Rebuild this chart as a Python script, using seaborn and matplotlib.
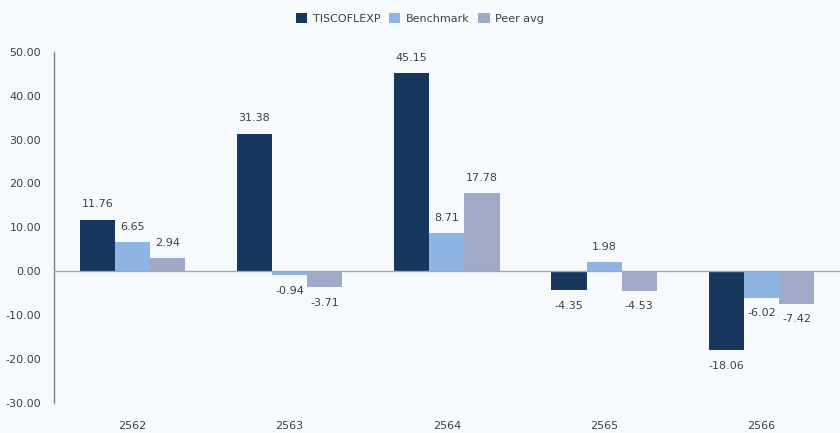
import pandas as pd
import numpy as np
import matplotlib.pyplot as plt
import seaborn as sns

# data
years = ["2562", "2563", "2564", "2565", "2566"]
series_names = ["TISCOFLEXP", "Benchmark", "Peer avg"]
tisco = [11.76, 31.38, 45.15, -4.35, -18.06]
benchmark = [6.65, -0.94, 8.71, 1.98, -6.02]
peer_avg = [2.94, -3.71, 17.78, -4.53, -7.42]
y_ticks = [50, 40, 30, 20, 10, 0, -10, -20, -30]

colors = ["#17375E", "#8EB4E3", "#9FAAC6"]
bg = "#F7FAFD"
text_col = "#404040"

df = pd.DataFrame({
    "year": years * 3,
    "series": [s for s in series_names for _ in years],
    "value": tisco + benchmark + peer_avg,
})

sns.set_theme(style="white")
plt.rcParams["font.family"] = ["DejaVu Sans"]

fig, ax = plt.subplots(figsize=(8.4, 4.33), dpi=100)
fig.patch.set_facecolor(bg)
ax.set_facecolor(bg)
fig.subplots_adjust(left=0.064, right=1.0, top=0.88, bottom=0.07)

sns.barplot(data=df, x="year", y="value", hue="series", palette=colors,
            width=0.67, saturation=1, linewidth=0, ax=ax, legend=True)

# value labels
for cont in ax.containers:
    for bar in cont:
        h = bar.get_height()
        x = bar.get_x() + bar.get_width() / 2
        off = 11 if h >= 0 else -11
        ax.annotate(f"{h:.2f}", (x, h), xytext=(0, off), textcoords="offset points",
                    ha="center", va="center", fontsize=8, color=text_col)

ax.axhline(0, color="#A6A6A6", lw=1, zorder=3)
ax.set_ylim(-30, 50)
ax.set_xlim(-0.5, 4.5)
ax.set_yticks(y_ticks)
ax.set_yticklabels([f"{v:.2f}" for v in y_ticks])
ax.set_xlabel("")
ax.set_ylabel("")
ax.tick_params(axis="y", length=0, pad=9, labelsize=8, labelcolor=text_col)
ax.tick_params(axis="x", length=0, pad=13, labelsize=8, labelcolor=text_col)
for s in ["top", "right", "bottom"]:
    ax.spines[s].set_visible(False)
ax.spines["left"].set_color("#7F7F7F")
ax.spines["left"].set_linewidth(1)

handles, labels = ax.get_legend_handles_labels()
ax.get_legend().remove()
fig.legend(handles, labels, loc="center", bbox_to_anchor=(0.5, 0.958), ncol=3,
           frameon=False, fontsize=8, handlelength=1.0, handleheight=1.0,
           handletextpad=0.5, columnspacing=0.8, labelcolor=text_col)

fig.savefig("out.png", dpi=100, facecolor=bg)
